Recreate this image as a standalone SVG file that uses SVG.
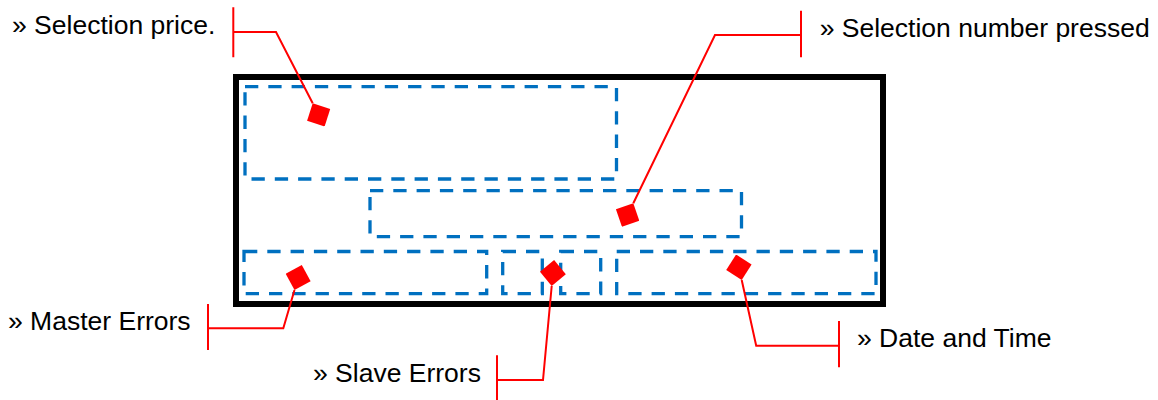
<svg xmlns="http://www.w3.org/2000/svg" width="1158" height="400" viewBox="0 0 1158 400">
  <style>
    .frame { fill: none; stroke: #000000; stroke-width: 6; }
    .zone { fill: none; stroke: #0070C0; stroke-width: 3.3; stroke-dasharray: 13.3 10; }
    .lbl { font-family: "Liberation Sans", Arial, sans-serif; font-size: 26.5px; fill: #000000; }
    .conn { fill: none; stroke: #FF0000; stroke-width: 2; marker-end: url(#dia); }
  </style>
  <defs>
    <marker id="dia" markerUnits="userSpaceOnUse" markerWidth="26" markerHeight="26" refX="0" refY="13" orient="auto">
      <path d="M0,13 L13,0 L26,13 L13,26 Z" fill="#FF0000"/>
    </marker>
  </defs>
  <rect width="1158" height="400" fill="#FFFFFF"/>

  <g id="display">
    <rect class="frame" x="236" y="77" width="647" height="227"/>
  </g>
  <g id="zone-price">
    <rect class="zone" x="245" y="86.7" width="371.5" height="92.3"/>
  </g>
  <g id="zone-selection">
    <rect class="zone" x="370" y="190.7" width="371.5" height="46"/>
  </g>
  <g id="zone-master">
    <rect class="zone" x="244" y="251.5" width="242.7" height="42.2"/>
  </g>
  <g id="zone-slave-a">
    <rect class="zone" x="502.7" y="251.5" width="39.6" height="42.2"/>
  </g>
  <g id="zone-slave-b">
    <rect class="zone" x="560.7" y="251.5" width="40" height="42.2"/>
  </g>
  <g id="zone-date">
    <rect class="zone" x="616.7" y="251.5" width="259.3" height="42.2"/>
  </g>

  <g id="label-price"><text class="lbl" x="12" y="33.5">» Selection price.</text></g>
  <g id="label-selection"><text class="lbl" x="819.7" y="36.5">» Selection number pressed</text></g>
  <g id="label-master"><text class="lbl" x="8" y="330">» Master Errors</text></g>
  <g id="label-slave"><text class="lbl" x="313" y="381.7">» Slave Errors</text></g>
  <g id="label-date"><text class="lbl" x="857" y="347.3">» Date and Time</text></g>

  <g id="connectors">
    <path class="conn" d="M233.3,7.3 V57.3 M233.3,32 H276 L312.7,103.3"/>
    <path class="conn" d="M801,10.7 V57.3 M801,35 H715 L633.3,203.3"/>
    <path class="conn" d="M208,304 V350 M208,328.3 H283.3 L294.5,290"/>
    <path class="conn" d="M497,355.3 V400 M497,380 H543 L551.7,286"/>
    <path class="conn" d="M839,321 V367.3 M839,345.7 H756.2 L741.7,280"/>
  </g>
</svg>
